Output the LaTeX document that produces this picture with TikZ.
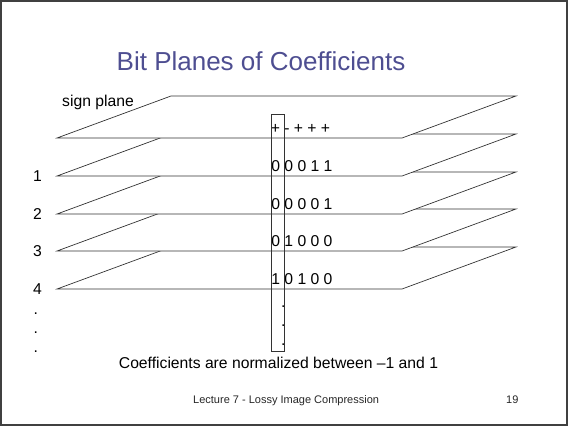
\documentclass[tikz,border=0pt]{standalone}
\usepackage{fontspec}
\setmainfont{Liberation Sans}
\definecolor{titleblue}{RGB}{78,78,145}
\definecolor{framegray}{RGB}{64,64,64}
\begin{document}
\begin{tikzpicture}[x=1pt, y=-1pt,
    plane/.style={draw=black!80, line width=0.7pt, fill=white},
    txt/.style={anchor=base west, inner sep=0pt, font=\fontsize{15.7}{19}\selectfont},
    bit/.style={anchor=base, inner sep=0pt, font=\fontsize{15.7}{19}\selectfont},
    small/.style={anchor=base west, inner sep=0pt, font=\fontsize{11}{13}\selectfont, black!85}]
    % page frame, 1 unit = 1 px of the slide
    \useasboundingbox (0,0) rectangle (568,426);
    \draw[framegray, line width=2pt] (1,1) rectangle (567,425);
    \node[anchor=base, inner sep=0pt, font=\fontsize{26}{30}\selectfont, titleblue] (title) at (261,70.7) {Bit Planes of Coefficients};
    % plane geometry: front edge x-range, and the depth offset of the back edge
    \def\xl{57}
    \def\xr{402}
    \def\dx{114}
    \def\dy{42}
    % stack drawn bottom to top, white fill hides what lies beneath
    \foreach \yf in {289, 251, 214, 176, 138} {
        \draw[plane] (\xl,\yf) -- (\xr,\yf) -- ++(\dx,-\dy) -- ++(\xl-\xr,0) -- cycle;
    }
    \node[txt] (signlbl) at (62,106) {sign plane};
    % plane numbers on the left
    \foreach \n/\yf in {1/176, 2/214, 3/251, 4/289} {
        \node[txt] (lbl\n) at (33,\yf+5.5) {\n};
    }
    \foreach \k/\yb in {a/314, b/333, c/352} {
        \node[txt] (ldot\k) at (33.5,\yb) {.};
    }
    % signs, then the bits of each plane (13.1 px per column)
    \node[txt] (rowsign) at (270.6,133) {+ - + + +};
    \foreach \r/\yf/\bits in {1/176/{0,0,0,1,1}, 2/214/{0,0,0,0,1}, 3/251/{0,1,0,0,0}, 4/289/{1,0,1,0,0}} {
        \foreach \b [count=\c from 0] in \bits {
            \node[bit] (bit\r-\c) at (275.7+13.1*\c,\yf-5) {\b};
        }
    }
    % first coefficient picked out through all planes
    \node[draw=black!80, line width=0.7pt, inner sep=0pt, minimum width=13.6pt, minimum height=237pt, anchor=north west] (column) at (270.7,114) {};
    \foreach \k/\yb in {a/307, b/326, c/345} {
        \node[txt] (cdot\k) at (280.8,\yb) {.};
    }
    \node[anchor=base, inner sep=0pt, font=\fontsize{15.7}{19}\selectfont] (note) at (278.5,368) {Coefficients are normalized between \textendash1 and 1};
    % footer
    \node[small] (footer) at (193,403) {Lecture 7 - Lossy Image Compression};
    \node[small] (pageno) at (506,403) {19};
\end{tikzpicture}
\end{document}
